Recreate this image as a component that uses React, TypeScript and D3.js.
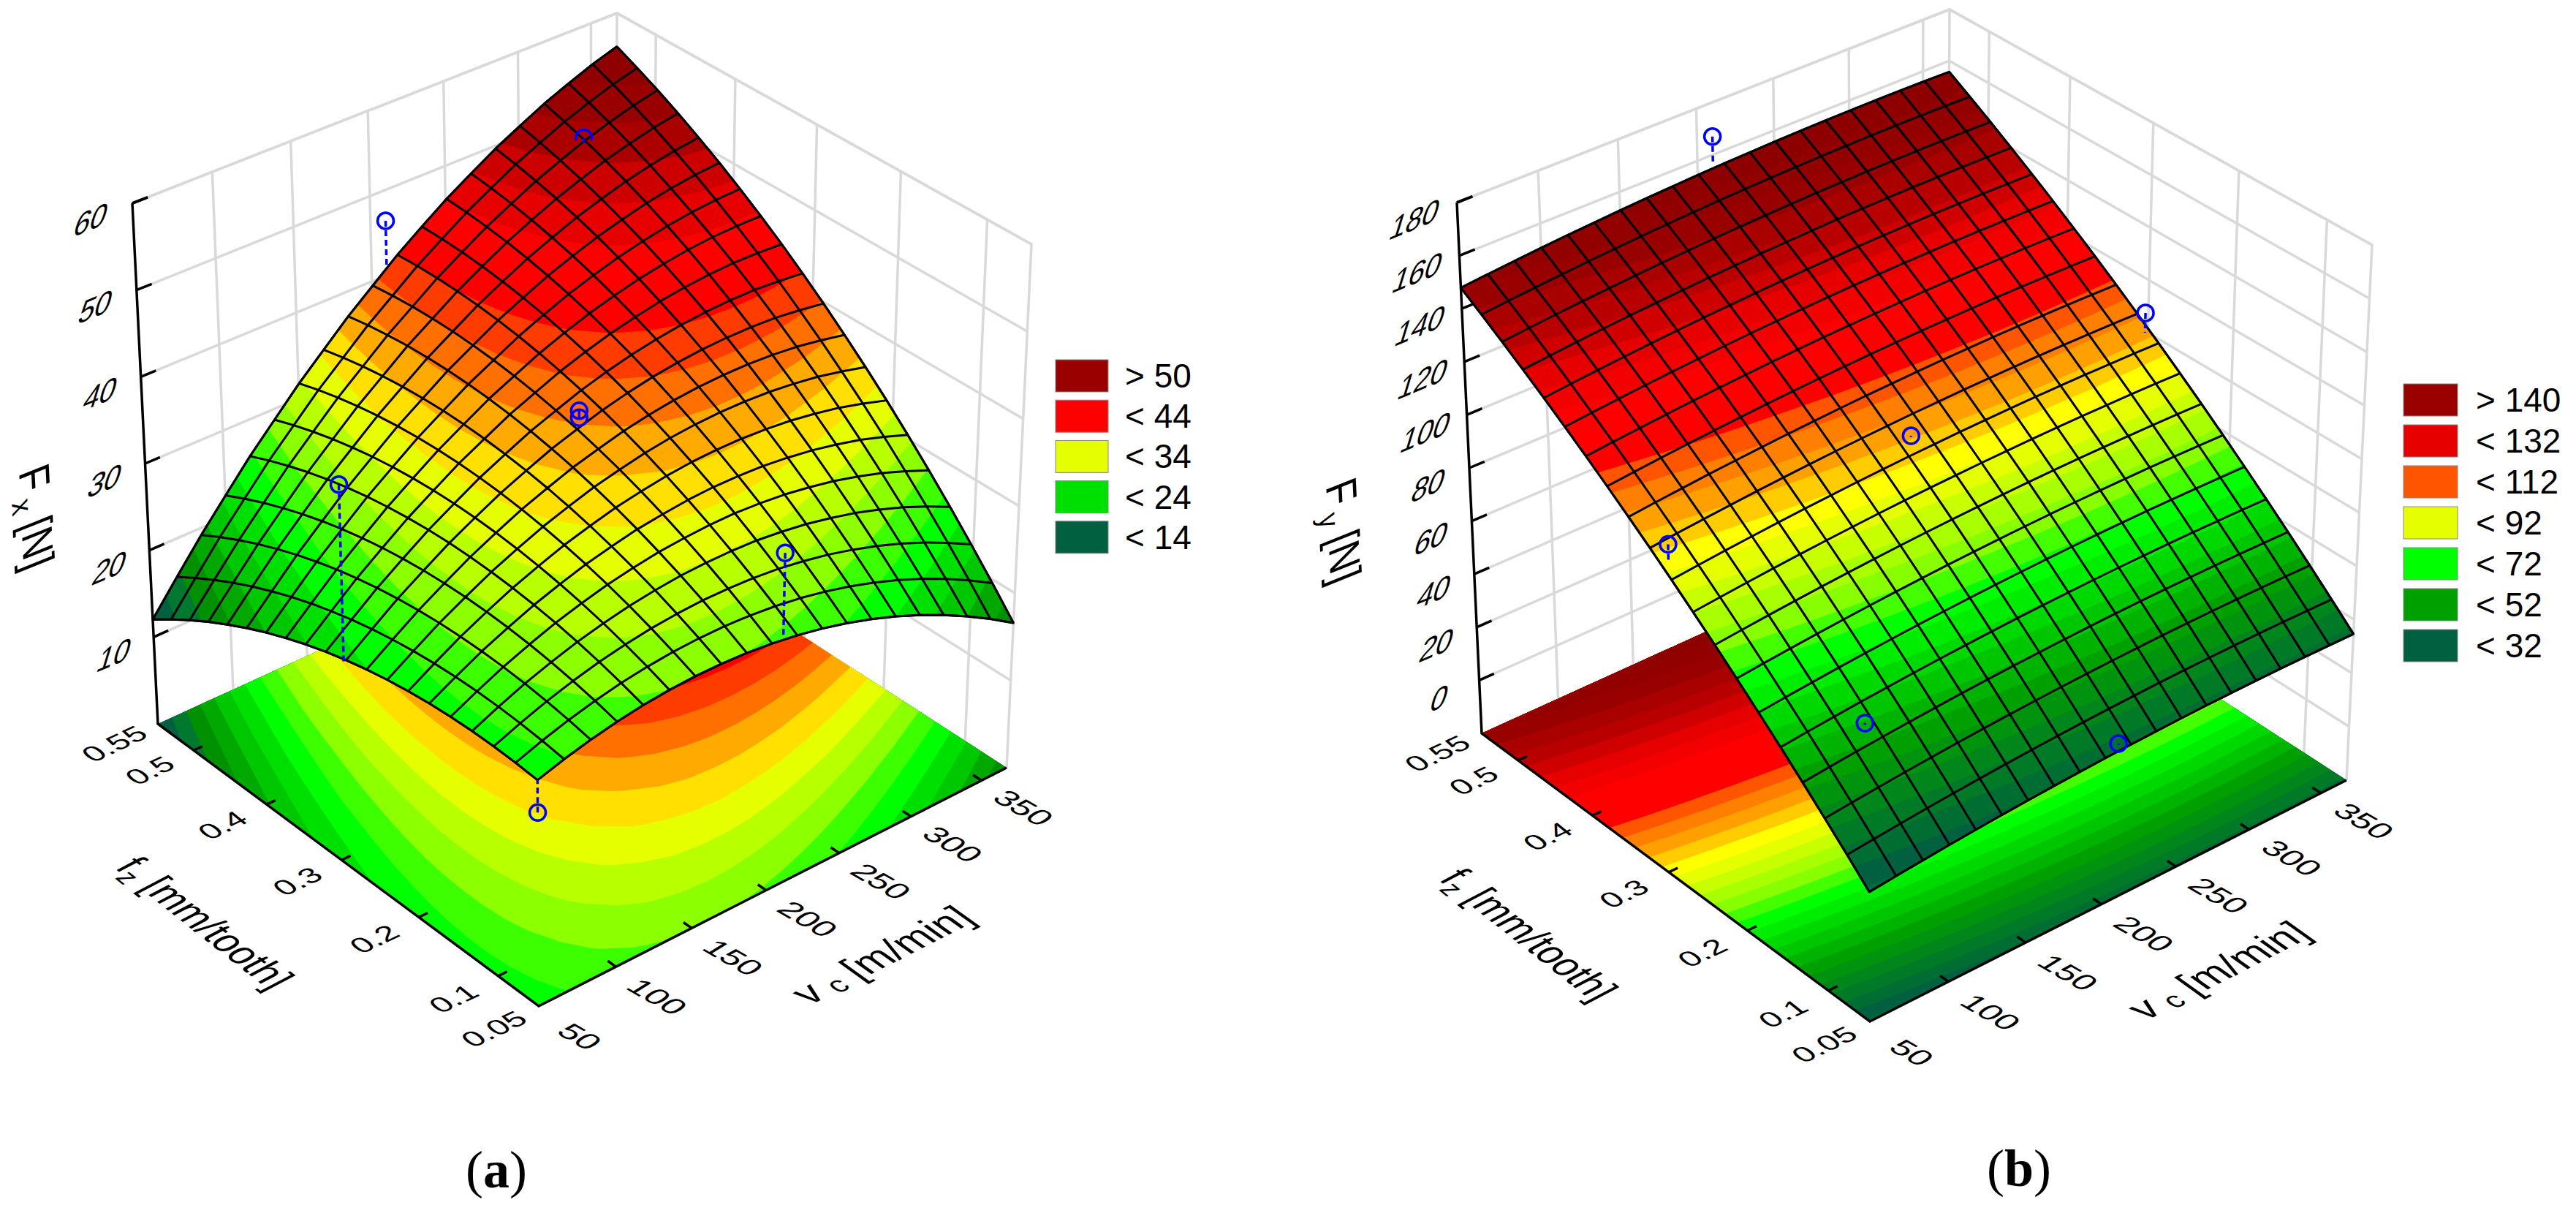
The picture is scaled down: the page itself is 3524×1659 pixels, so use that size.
// two response surfaces (Fx, Fy against vc and fz) drawn with a hand made perspective
import React from 'react';
import * as d3 from 'd3';

const vcTicks = [50, 100, 150, 200, 250, 300, 350];
const fzTicks = [0.05, 0.1, 0.2, 0.3, 0.4, 0.5, 0.55];
const fxTicks = [10, 20, 30, 40, 50, 60];
const fyTicks = [0, 20, 40, 60, 80, 100, 120, 140, 160, 180];

const fxLegend = ['> 50', '< 44', '< 34', '< 24', '< 14'];
const fxLegendColors = ['#990000', '#ff0000', '#e6ff00', '#00e000', '#006040'];
const fyLegend = ['> 140', '< 132', '< 112', '< 92', '< 72', '< 52', '< 32'];
const fyLegendColors = ['#990000', '#e60000', '#ff5500', '#e6ff00', '#00ff00', '#00a000', '#006040'];

// rows run from fz low to fz high, columns from vc low to vc high
const fxRows = [
  [25.00,25.89,26.64,27.24,27.69,27.99,28.14,28.14,28.00,27.70,27.26,26.67,25.93,25.04,24.00,22.82,21.49,20.01,18.38,16.60],
  [25.22,26.25,27.15,27.89,28.49,28.93,29.23,29.37,29.38,29.22,28.93,28.49,27.89,27.15,26.25,25.22,24.03,22.70,21.21,19.58],
  [25.34,26.51,27.56,28.44,29.19,29.77,30.22,30.50,30.66,30.64,30.50,30.21,29.75,29.16,28.40,27.52,26.47,25.29,23.94,22.46],
  [25.36,26.67,27.87,28.89,29.79,30.51,31.11,31.53,31.84,31.96,31.97,31.83,31.51,31.07,30.45,29.72,28.81,27.78,26.57,25.24],
  [25.28,26.73,28.08,29.24,30.29,31.15,31.90,32.46,32.92,33.18,33.34,33.35,33.17,32.88,32.40,31.82,31.05,30.17,29.10,27.92],
  [25.10,26.69,28.19,29.49,30.69,31.69,32.59,33.29,33.90,34.30,34.61,34.76,34.73,34.58,34.25,33.81,33.19,32.46,31.53,30.50],
  [24.82,26.55,28.20,29.64,30.99,32.13,33.18,34.02,34.78,35.32,35.78,36.07,36.19,36.18,36.00,35.70,35.23,34.65,33.86,32.98],
  [24.44,26.31,28.11,29.69,31.19,32.47,33.67,34.65,35.56,36.24,36.85,37.28,37.55,37.68,37.65,37.49,37.17,36.73,36.09,35.35],
  [23.96,25.97,27.92,29.64,31.29,32.71,34.06,35.18,36.24,37.06,37.82,38.39,38.81,39.08,39.20,39.18,39.01,38.71,38.22,37.62],
  [23.38,25.53,27.63,29.49,31.29,32.85,34.35,35.61,36.82,37.78,38.69,39.40,39.97,40.38,40.65,40.77,40.75,40.60,40.25,39.80],
  [22.70,24.99,27.24,29.24,31.19,32.89,34.54,35.94,37.30,38.40,39.46,40.31,41.03,41.58,42.00,42.26,42.39,42.38,42.18,41.87],
  [21.92,24.35,26.75,28.89,30.99,32.83,34.63,36.17,37.68,38.92,40.13,41.12,41.99,42.68,43.25,43.65,43.93,44.06,44.01,43.84],
  [21.03,23.61,26.16,28.44,30.69,32.67,34.62,36.30,37.96,39.34,40.70,41.83,42.85,43.68,44.40,44.94,45.37,45.64,45.74,45.71],
  [20.05,22.77,25.47,27.89,30.29,32.41,34.51,36.33,38.14,39.66,41.17,42.44,43.61,44.58,45.45,46.13,46.71,47.12,47.37,47.48],
  [18.96,21.83,24.68,27.24,29.79,32.05,34.30,36.26,38.22,39.88,41.54,42.95,44.27,45.38,46.40,47.22,47.95,48.50,48.90,49.15],
  [17.77,20.79,23.78,26.49,29.19,31.59,33.99,36.09,38.20,40.00,41.81,43.36,44.83,46.08,47.25,48.21,49.09,49.78,50.33,50.72],
  [16.49,19.65,22.79,25.64,28.49,31.03,33.58,35.82,38.08,40.02,41.98,43.67,45.29,46.68,48.00,49.10,50.13,50.96,51.66,52.19],
  [15.10,18.41,21.69,24.69,27.68,30.37,33.06,35.45,37.85,39.94,42.05,43.88,45.65,47.18,48.65,49.89,51.07,52.04,52.89,53.56],
  [13.61,17.07,20.49,23.64,26.78,29.61,32.45,34.98,37.53,39.76,42.02,43.99,45.91,47.58,49.20,50.58,51.91,53.02,54.02,54.83],
  [12.02,15.63,19.19,22.49,25.77,28.75,31.73,34.41,37.10,39.48,41.89,44.00,46.07,47.88,49.65,51.17,52.65,53.90,55.05,56.00],
];

const fyRows = [
  [26.80,27.81,28.75,29.63,30.44,31.18,31.86,32.47,33.01,33.49,33.90,34.24,34.52,34.73,34.87,34.95,34.96,34.91,34.79,34.60],
  [34.47,35.48,36.42,37.30,38.11,38.85,39.53,40.14,40.68,41.16,41.57,41.91,42.19,42.40,42.54,42.62,42.63,42.58,42.46,42.27],
  [41.98,42.99,43.93,44.81,45.62,46.36,47.04,47.65,48.19,48.67,49.08,49.42,49.70,49.91,50.05,50.13,50.14,50.09,49.97,49.78],
  [49.36,50.37,51.31,52.19,53.00,53.74,54.42,55.03,55.57,56.05,56.46,56.80,57.08,57.29,57.43,57.51,57.52,57.47,57.35,57.16],
  [56.60,57.61,58.55,59.43,60.24,60.98,61.66,62.27,62.81,63.29,63.70,64.04,64.32,64.53,64.67,64.75,64.76,64.71,64.59,64.40],
  [63.69,64.70,65.64,66.52,67.33,68.07,68.75,69.36,69.90,70.38,70.79,71.13,71.41,71.62,71.76,71.84,71.85,71.80,71.68,71.49],
  [70.64,71.65,72.59,73.47,74.28,75.02,75.70,76.31,76.85,77.33,77.74,78.08,78.36,78.57,78.71,78.79,78.80,78.75,78.63,78.44],
  [77.45,78.46,79.40,80.28,81.09,81.83,82.51,83.12,83.66,84.14,84.55,84.89,85.17,85.38,85.52,85.60,85.61,85.56,85.44,85.25],
  [84.10,85.11,86.05,86.93,87.74,88.48,89.16,89.77,90.31,90.79,91.20,91.54,91.82,92.03,92.17,92.25,92.26,92.21,92.09,91.90],
  [90.62,91.63,92.57,93.45,94.26,95.00,95.68,96.29,96.83,97.31,97.72,98.06,98.34,98.55,98.69,98.77,98.78,98.73,98.61,98.42],
  [97.00,98.01,98.95,99.83,100.64,101.38,102.06,102.67,103.21,103.69,104.10,104.44,104.72,104.93,105.07,105.15,105.16,105.11,104.99,104.80],
  [103.23,104.24,105.18,106.06,106.87,107.61,108.29,108.90,109.44,109.92,110.33,110.67,110.95,111.16,111.30,111.38,111.39,111.34,111.22,111.03],
  [109.31,110.32,111.26,112.14,112.95,113.69,114.37,114.98,115.52,116.00,116.41,116.75,117.03,117.24,117.38,117.46,117.47,117.42,117.30,117.11],
  [115.26,116.27,117.21,118.09,118.90,119.64,120.32,120.93,121.47,121.95,122.36,122.70,122.98,123.19,123.33,123.41,123.42,123.37,123.25,123.06],
  [121.06,122.07,123.01,123.89,124.70,125.44,126.12,126.73,127.27,127.75,128.16,128.50,128.78,128.99,129.13,129.21,129.22,129.17,129.05,128.86],
  [126.71,127.72,128.66,129.54,130.35,131.09,131.77,132.38,132.92,133.40,133.81,134.15,134.43,134.64,134.78,134.86,134.87,134.82,134.70,134.51],
  [132.23,133.24,134.18,135.06,135.87,136.61,137.29,137.90,138.44,138.92,139.33,139.67,139.95,140.16,140.30,140.38,140.39,140.34,140.22,140.03],
  [137.60,138.61,139.55,140.43,141.24,141.98,142.66,143.27,143.81,144.29,144.70,145.04,145.32,145.53,145.67,145.75,145.76,145.71,145.59,145.40],
  [142.81,143.82,144.76,145.64,146.45,147.19,147.87,148.48,149.02,149.50,149.91,150.25,150.53,150.74,150.88,150.96,150.97,150.92,150.80,150.61],
  [147.90,148.91,149.85,150.73,151.54,152.28,152.96,153.57,154.11,154.59,155.00,155.34,155.62,155.83,155.97,156.05,156.06,156.01,155.89,155.70],
];

// measured points: vc, fz, measured force, fitted force under the point
const fxPoints = [
  [210, 0.55, 46.4, 40.8],
  [345, 0.55, 46.7, 46.1],
  [209, 0.3, 38.5, 38],
  [209, 0.3, 37.7, 38],
  [50, 0.29, 43, 23],
  [208, 0.05, 37.3, 27.8],
  [50, 0.05, 21.4, 25],
];
const fyPoints = [
  [210, 0.55, 167, 156.4],
  [209, 0.3, 100.4, 100],
  [50, 0.29, 103, 97],
  [366, 0.3, 108, 100.5],
  [100, 0.15, 52.8, 52],
  [209, 0.05, 36.5, 36],
];

const FONT = '"Liberation Sans", Arial, sans-serif';
const GRID = '#d9d9d9';
const BLUE = '#0000ff';
const N = 20;

type P = [number, number];

// maps the unit square on a four cornered quad with a true perspective
function quadMap(p00: P, p10: P, p11: P, p01: P) {
  const [x0, y0] = p00, [x1, y1] = p10, [x2, y2] = p11, [x3, y3] = p01;
  const dx1 = x1 - x2, dx2 = x3 - x2, sx = x0 - x1 + x2 - x3;
  const dy1 = y1 - y2, dy2 = y3 - y2, sy = y0 - y1 + y2 - y3;
  const den = dx1 * dy2 - dx2 * dy1;
  const g = (sx * dy2 - dx2 * sy) / den;
  const h = (dx1 * sy - sx * dy1) / den;
  return (u: number, v: number): P => {
    const w = g * u + h * v + 1;
    return [
      ((x1 - x0 + g * x1) * u + (x3 - x0 + h * x3) * v + x0) / w,
      ((y1 - y0 + g * y1) * u + (y3 - y0 + h * y3) * v + y0) / w,
    ];
  };
}

const clampCell = d3.scaleLinear().domain([0, N - 1]).range([0, N - 1]).clamp(true);
const pathOf = (pts: P[], close = false) => d3.line()(pts) + (close ? 'Z' : '');
const matrix = (m: number[], x: number, y: number) =>
  `matrix(${m[0]},${m[1]},${m[2]},${m[3]},${x},${y})`;

// text lying on the walls and the floor
const Z_LABEL = [0.98, -0.41, -0.35, 1.15];
const Z_TITLE = [0.05, 1.05, -1.17, 0.47];
const FZ_LABEL = [0.95, -0.45, 0.68, 0.55];
const VC_LABEL = [0.95, 0.55, -0.8, 0.5];
const VC_TITLE = [0.98, -0.5, 0.9, 0.645];
const FZ_TITLE = [0.76, 0.6, -1.03, 0.54];

function Chart({ cfg }: any) {
  const { corners, rows, zDomain, zTicks, levels, step, colorDomain, colorRange } = cfg;
  const floor = quadMap(corners.F, corners.E, corners.G, corners.B);
  const top = quadMap(corners.Ft, corners.D, corners.C, corners.A);
  const project = (u: number, v: number, w: number): P => {
    const a = floor(u, v), b = top(u, v);
    return [a[0] + (b[0] - a[0]) * w, a[1] + (b[1] - a[1]) * w];
  };
  const uScale = d3.scaleLinear().domain([50, 368]).range([0, 1]);
  const vScale = d3.scaleLinear().domain([0.05, 0.55]).range([0, 1]);
  const wScale = d3.scaleLinear().domain(zDomain).range([0, 1]);
  const colour = d3.scaleLinear<string>().domain(colorDomain).range(colorRange).interpolate(d3.interpolateRgb);

  const heightAt = (i: number, j: number) => {
    const i0 = Math.min(Math.floor(i), N - 2), j0 = Math.min(Math.floor(j), N - 2);
    const a = i - i0, b = j - j0;
    return (
      rows[j0][i0] * (1 - a) * (1 - b) + rows[j0][i0 + 1] * a * (1 - b) +
      rows[j0 + 1][i0] * (1 - a) * b + rows[j0 + 1][i0 + 1] * a * b
    );
  };
  const nodeToFloor = (i: number, j: number) => project(i / (N - 1), j / (N - 1), 0);
  const nodeToSurface = (i: number, j: number) =>
    project(i / (N - 1), j / (N - 1), wScale(heightAt(i, j)));

  const bands = d3.contours().size([N, N]).thresholds(levels)(rows.flat());
  const bandPath = (band: any, toScreen: (i: number, j: number) => P) =>
    band.coordinates
      .flatMap((poly: any) =>
        poly.map((ring: any) =>
          pathOf(ring.map(([x, y]: P) => toScreen(clampCell(x - 0.5), clampCell(y - 0.5))), true),
        ),
      )
      .join('');

  const outline = (toScreen: (i: number, j: number) => P) => {
    const idx = d3.range(N);
    return pathOf(
      [
        ...idx.map((i) => toScreen(i, 0)),
        ...idx.map((j) => toScreen(N - 1, j)),
        ...idx.map((i) => toScreen(N - 1 - i, N - 1)),
        ...idx.map((j) => toScreen(0, N - 1 - j)),
      ],
      true,
    );
  };

  const wallLines: P[][] = [];
  zTicks.forEach((t: number) => {
    const w = wScale(t);
    wallLines.push([project(0, 1, w), project(1, 1, w), project(1, 0, w)]);
  });
  vcTicks.slice(1).forEach((t) => {
    wallLines.push([project(uScale(t), 1, 0), project(uScale(t), 1, 1)]);
  });
  fzTicks.slice(1, -1).forEach((t) => {
    wallLines.push([project(1, vScale(t), 0), project(1, vScale(t), 1)]);
  });
  wallLines.push([project(0, 1, 1), project(1, 1, 1), project(1, 0, 1), project(1, 0, 0)]);
  wallLines.push([project(1, 1, 0), project(1, 1, 1)]);

  const textProps = { fontFamily: FONT, fill: '#000', textAnchor: 'middle' as const };

  return (
    <g>
      {wallLines.map((l, i) => (
        <path key={i} d={pathOf(l)} fill="none" stroke={GRID} strokeWidth={3.5} />
      ))}

      {/* floor contours */}
      <path d={outline(nodeToFloor)} fill={colour(levels[0])} />
      {bands.map((b: any, i: number) => (
        <path key={i} d={bandPath(b, nodeToFloor)} fill={colour(b.value + step)} fillRule="evenodd" />
      ))}

      {/* axes */}
      <path d={pathOf([project(0, 1, 1), project(0, 1, 0), project(0, 0, 0), project(1, 0, 0)])}
        fill="none" stroke="#000" strokeWidth={3.5} />
      {zTicks.concat(zDomain[1]).map((t: number) => (
        <path key={t} d={pathOf([project(0, 1, wScale(t)), project(0.03, 1, wScale(t))])} stroke="#000" strokeWidth={3.5} />
      ))}
      {vcTicks.slice(1).map((t) => (
        <path key={t} d={pathOf([project(uScale(t), 0, 0), project(uScale(t), 0.02, 0)])} stroke="#000" strokeWidth={3.5} />
      ))}
      {fzTicks.slice(1, -1).map((t) => (
        <path key={t} d={pathOf([project(0, vScale(t), 0), project(0.018, vScale(t), 0)])} stroke="#000" strokeWidth={3.5} />
      ))}

      {zTicks.map((t: number) => {
        const [x, y] = project(-0.08, 1, wScale(t));
        return (
          <text key={t} {...textProps} fontSize={40} dy="0.35em" transform={matrix(Z_LABEL, x, y)}>{t}</text>
        );
      })}
      {vcTicks.map((t) => {
        const [x, y] = project(uScale(t), -0.1, 0);
        return (
          <text key={t} {...textProps} fontSize={42} dy="0.35em" transform={matrix(VC_LABEL, x, y)}>{t}</text>
        );
      })}
      {fzTicks.map((t) => {
        const [x, y] = project(-0.09, vScale(t), 0);
        return (
          <text key={t} {...textProps} fontSize={42} dy="0.35em" transform={matrix(FZ_LABEL, x, y)}>{t}</text>
        );
      })}

      {/* axis titles */}
      <text {...textProps} fontSize={50} dy="0.35em" transform={matrix(Z_TITLE, cfg.zTitle[0], cfg.zTitle[1])}>
        {cfg.zName}
        <tspan fontSize={34} dx={6} dy={10}>{cfg.zSub}</tspan>
        <tspan dy={-10}> [N]</tspan>
      </text>
      <text {...textProps} fontSize={50} dy="0.35em" transform={matrix(VC_TITLE, cfg.vcTitle[0], cfg.vcTitle[1])}>
        v
        <tspan fontSize={36} dx={12} dy={4}>c</tspan>
        <tspan dy={-4}> [m/min]</tspan>
      </text>
      <text {...textProps} fontSize={50} dy="0.35em" transform={matrix(FZ_TITLE, cfg.fzTitle[0], cfg.fzTitle[1])}>
        f
        <tspan fontSize={34} dy={10}>z</tspan>
        <tspan dy={-10}> [mm/tooth]</tspan>
      </text>

      {/* surface */}
      <path d={outline(nodeToSurface)} fill={colour(levels[0])} />
      {bands.map((b: any, i: number) => (
        <path key={i} d={bandPath(b, nodeToSurface)} fill={colour(b.value + step)} fillRule="evenodd" />
      ))}
      {d3.range(N).map((j) => (
        <path key={j} d={pathOf(d3.range(N).map((i) => nodeToSurface(i, j)))} fill="none" stroke="#000" strokeWidth={3} strokeLinejoin="round" />
      ))}
      {d3.range(N).map((i) => (
        <path key={i} d={pathOf(d3.range(N).map((j) => nodeToSurface(i, j)))} fill="none" stroke="#000" strokeWidth={3} strokeLinejoin="round" />
      ))}
      <path d={outline(nodeToSurface)} fill="none" stroke="#000" strokeWidth={3} strokeLinejoin="round" />

      {/* measured points */}
      {cfg.points.map((p: number[], i: number) => {
        const [x, y] = project(uScale(p[0]), vScale(p[1]), wScale(p[2]));
        const end = project(uScale(p[0]), vScale(p[1]), wScale(p[3]));
        const half = cfg.halfHidden.includes(i);
        return (
          <g key={i} stroke={BLUE} strokeWidth={3.5} fill="none">
            <path d={pathOf([[x, y], end])} strokeDasharray="8 5" />
            {half ? (
              <path transform={`translate(${x},${y})`}
                d={d3.arc()({ innerRadius: 11, outerRadius: 11, startAngle: -1.9, endAngle: 1.9 }) as string} />
            ) : (
              <circle cx={x} cy={y} r={11} />
            )}
          </g>
        );
      })}

      {/* legend */}
      {cfg.legend.map((label: string, i: number) => {
        const box = cfg.legendBoxes;
        const y = box.y + i * box.pitch;
        return (
          <g key={label}>
            <rect x={box.x} y={y} width={box.w} height={box.h} fill={cfg.legendColors[i]} stroke="#888" strokeWidth={1} />
            <text x={box.textX} y={y + box.h - 6} fontFamily={FONT} fontSize={46}>{label}</text>
          </g>
        );
      })}

      <text x={cfg.caption[0]} y={cfg.caption[1]} textAnchor="middle" fontFamily='"Liberation Serif", serif' fontSize={72}>
        (<tspan fontWeight="bold">{cfg.captionLetter}</tspan>)
      </text>
    </g>
  );
}

const chartA = {
  corners: {
    A: [181, 278], B: [216, 990], C: [844, 18], D: [1411, 334],
    E: [1377, 1050], F: [737, 1376], G: [842, 705], Ft: [733, 634],
  },
  rows: fxRows,
  zDomain: [0, 60],
  zTicks: fxTicks,
  levels: d3.range(12, 60, 2),
  step: 2,
  colorDomain: [14, 16, 18, 20, 22, 24, 26, 28, 30, 32, 34, 36, 38, 40, 42, 44, 46, 48, 50, 52, 54, 58],
  colorRange: ['#006040', '#007830', '#009000', '#00a800', '#00c800', '#00e000', '#00ff00', '#3cff00', '#8cff00', '#b8ff00', '#e6ff00', '#ffe000', '#ffaa00', '#ff7000', '#ff3c00', '#ff0000', '#ff0000', '#e60000', '#cc0000', '#aa0000', '#990000', '#880000'],
  points: fxPoints,
  halfHidden: [1],
  zName: 'F', zSub: 'x',
  zTitle: [50, 707], vcTitle: [1206, 1306], fzTitle: [281, 1262],
  legend: fxLegend, legendColors: fxLegendColors,
  legendBoxes: { x: 1444, y: 492, w: 72, h: 44, pitch: 55.2, textX: 1539 },
  caption: [679, 1624], captionLetter: 'a',
};

const chartB = {
  corners: {
    A: [1993, 277], B: [2027, 1003], C: [2667, 13], D: [3245, 335],
    E: [3210, 1067], F: [2558, 1397], G: [2663, 715], Ft: [2555, 640],
  },
  rows: fyRows,
  zDomain: [-20, 180],
  zTicks: fyTicks,
  levels: d3.range(24, 160, 4),
  step: 4,
  colorDomain: [28, 32, 52, 72, 80, 92, 96, 100, 104, 108, 112, 116, 124, 132, 140, 148, 160],
  colorRange: ['#006a40', '#006040', '#00a000', '#00ff00', '#88ff00', '#e6ff00', '#ffff00', '#ffcc00', '#ffa000', '#ff8000', '#ff5500', '#ff0000', '#ff0000', '#e60000', '#b80000', '#990000', '#880000'],
  points: fyPoints,
  halfHidden: [],
  zName: 'F', zSub: 'y',
  zTitle: [1838, 726], vcTitle: [3034, 1327], fzTitle: [2092, 1278],
  legend: fyLegend, legendColors: fyLegendColors,
  legendBoxes: { x: 3288, y: 525, w: 74, h: 44, pitch: 56, textX: 3387 },
  caption: [2762, 1622], captionLetter: 'b',
};

export default function App() {
  return (
    <svg width={3524} height={1659} viewBox="0 0 3524 1659"
      style={{ position: 'absolute', left: 0, top: 0, display: 'block', background: '#fff' }}>
      <Chart cfg={chartA} />
      <Chart cfg={chartB} />
    </svg>
  );
}
